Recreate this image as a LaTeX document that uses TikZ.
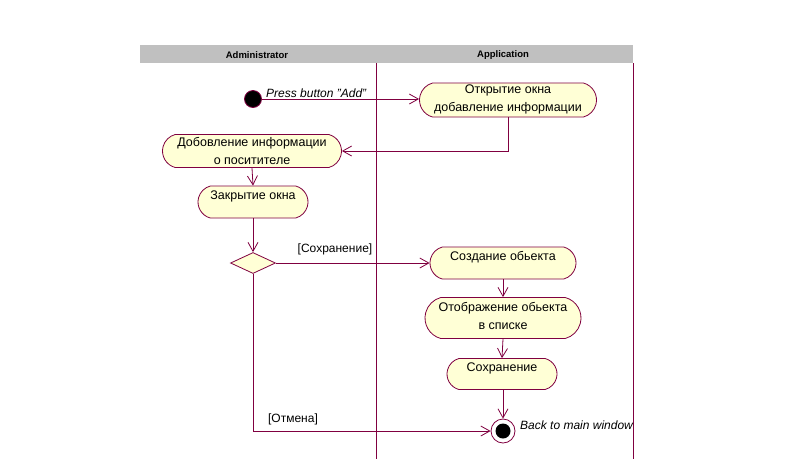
\documentclass[tikz,border=0pt]{standalone}
\usepackage{fontspec}
\setmainfont{Liberation Sans}
\usetikzlibrary{shapes.misc,shapes.geometric,arrows.meta}
\definecolor{umlline}{RGB}{128,0,64}
\definecolor{umlfill}{RGB}{255,255,214}
\definecolor{swimhead}{RGB}{192,192,192}
\tikzset{
  activity/.style={rounded rectangle, rounded rectangle arc length=150,
    draw=umlline, fill=umlfill, line width=0.8pt, inner sep=0pt},
  acttext/.style={align=center, inner sep=0pt, font=\fontsize{12.5}{18}\selectfont},
  decision/.style={diamond, draw=umlline, fill=umlfill, line width=0.8pt, inner sep=0pt,
    minimum width=45pt, minimum height=21pt, aspect=2.1},
  flow/.style={draw=umlline, line width=0.8pt, -{Straight Barb[length=9pt,width=10pt]}},
  lane/.style={draw=umlline, line width=0.9pt},
  guard/.style={font=\fontsize{12}{14}\selectfont, anchor=base},
  note/.style={font=\fontsize{12}{14}\selectfont\itshape, anchor=base west, inner sep=0pt},
  lanetitle/.style={font=\fontsize{9.5}{11}\selectfont\bfseries}
}
\begin{document}
\begin{tikzpicture}[x=1pt,y=-1pt]
  \useasboundingbox (0,0) rectangle (790,459);
  \fill[white] (0,0) rectangle (790,459);

  % swimlane header and separators
  \fill[swimhead] (140,45) rectangle (633,63);
  \node[lanetitle] (hdA) at (257,55.5) {Administrator};
  \node[lanetitle] (hdB) at (503,55.5) {Application};
  \coordinate (l1t) at (376,63); \coordinate (l1b) at (376,459);
  \coordinate (l2t) at (633,63); \coordinate (l2b) at (633,459);
  \draw[lane] (l1t) -- (l1b);
  \draw[lane] (l2t) -- (l2b);

  % start state
  \node[circle, draw=umlline, fill=black, line width=0.8pt, minimum size=17pt, inner sep=0pt] (start) at (253,99) {};

  % activities (text is set a little above the middle, as in the tool's style)
  \node[activity, minimum width=177pt, minimum height=34pt] (a1) at (508,100) {};
  \node[acttext] (a1t) at (508,99) {Открытие окна\\добавление информации};
  \node[activity, minimum width=179pt, minimum height=33pt] (a2) at (252,151) {};
  \node[acttext] (a2t) at (252,151) {Добовление информации\\о поситителе};
  \node[activity, minimum width=110pt, minimum height=32pt] (a3) at (253,202) {};
  \node[acttext] (a3t) at (253,196) {Закрытие окна};
  \node[decision] (dec) at (253,263) {};
  \node[activity, minimum width=146pt, minimum height=32pt] (b1) at (503,263) {};
  \node[acttext] (b1t) at (503,257) {Создание обьекта};
  \node[activity, minimum width=156pt, minimum height=41pt] (b2) at (503,318) {};
  \node[acttext] (b2t) at (503,316) {Отображение обьекта\\в списке};
  \node[activity, minimum width=110pt, minimum height=31pt] (b3) at (502,374) {};
  \node[acttext] (b3t) at (502,368) {Сохранение};

  % end state
  \node[circle, draw=umlline, fill=white, line width=0.8pt, minimum size=24pt, inner sep=0pt] (end) at (503,431) {};
  \node[circle, fill=black, minimum size=15pt, inner sep=0pt] (endcore) at (end.center) {};

  % flows
  \draw[flow] (start) -- (a1.west |- start);
  \node[note] (pressLbl) at (266,97) {Press button "Add"};
  \draw[flow] (a1.south) |- (a2.east);
  \draw[flow] (a2.south) -- (a3.north);
  \draw[flow] (a3.south) -- (dec.north);
  \draw[flow] (dec.east) -- (b1.west);
  \node[guard] (gSave) at (335,252) {[Сохранение]};
  \draw[flow] (b1.south) -- (b2.north);
  \draw[flow] (b2.south) -- (b3.north);
  \draw[flow] (b3.south -| end.north) -- (end.north);
  \draw[flow] (dec.south) |- (end.west);
  \node[guard] (gCancel) at (293,422) {[Отмена]};
  \node[note] (backLbl) at (520,429) {Back to main window};
\end{tikzpicture}
\end{document}
